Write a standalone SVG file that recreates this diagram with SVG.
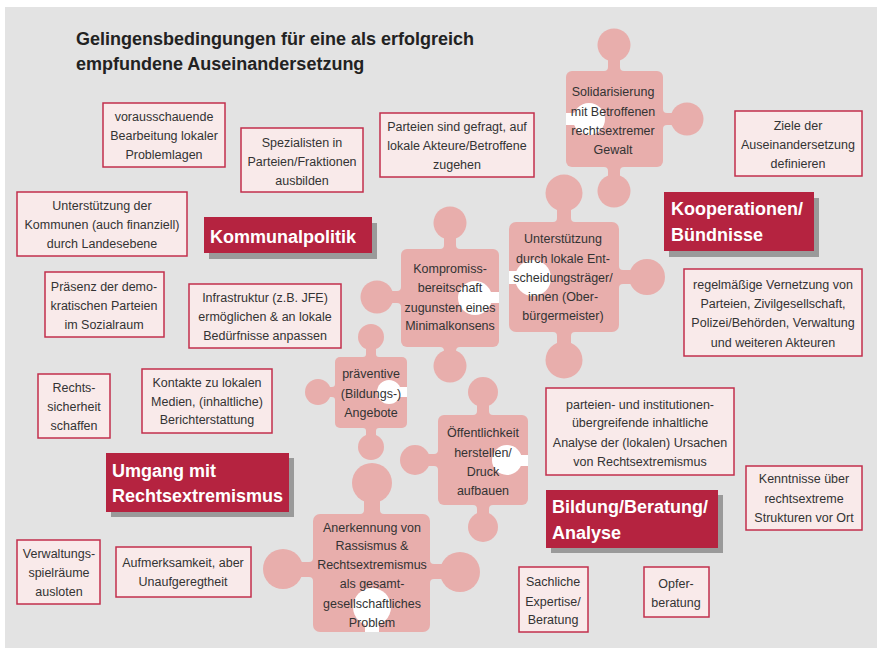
<svg xmlns="http://www.w3.org/2000/svg" width="877" height="651" viewBox="0 0 877 651">
<style>
.bg{fill:#e3e3e3}
.box{fill:#f9eaea;stroke:#c22f4c;stroke-width:1.5}
.t{font-family:"Liberation Sans",Arial,sans-serif;font-size:12.5px;fill:#333;text-anchor:middle}
.lab{fill:#b52340}
.sh{fill:#9a9a9a}
.h{font-family:"Liberation Sans",Arial,sans-serif;font-size:18px;font-weight:bold;fill:#fff}
.title{font-family:"Liberation Sans",Arial,sans-serif;font-size:18px;font-weight:bold;fill:#222}
.pz{fill:#e8aeac}
.hole{fill:#fff}
</style>
<rect x="0" y="0" width="877" height="651" fill="#fff"/>
<rect class="bg" x="5" y="7" width="872" height="641"/>
<g id="title">
<text class="title" x="76" y="45">Gelingensbedingungen für eine als erfolgreich</text>
<text class="title" x="76" y="70">empfundene Auseinandersetzung</text>
</g>

<!-- puzzle pieces -->
<g id="piece-solidarisierung">
<g class="pz">
<rect x="566" y="71" width="97" height="96" rx="6"/>
<circle cx="614" cy="45" r="16.5"/><rect x="608" y="55" width="12" height="20"/>
<circle cx="614" cy="191" r="16.5"/><rect x="608" y="163" width="12" height="20"/>
<circle cx="687" cy="119" r="16.5"/><rect x="659" y="113" width="20" height="12"/>
<path d="M604 71A4 4 0 0 0 608 67L608 71Z M624 71A4 4 0 0 1 620 67L620 71Z M604 167A4 4 0 0 1 608 171L608 167Z M624 167A4 4 0 0 0 620 171L620 167Z M663 109A4 4 0 0 0 667 113L663 113Z M663 129A4 4 0 0 1 667 125L663 125Z"/>
</g>
<g class="hole"><circle cx="589" cy="119" r="16"/><rect x="566" y="113" width="23" height="12"/></g>
<text class="t"><tspan x="613" y="96">Solidarisierung</tspan><tspan x="613" y="116">mit Betroffenen</tspan><tspan x="613" y="135">rechtsextremer</tspan><tspan x="613" y="154">Gewalt</tspan></text>
</g>

<g id="piece-unterstuetzung">
<g class="pz">
<rect x="509" y="222" width="110" height="110" rx="7"/>
<circle cx="564" cy="193" r="18.5"/><rect x="557" y="205" width="14" height="22"/>
<circle cx="564" cy="360" r="18.5"/><rect x="557" y="328" width="14" height="20"/>
<circle cx="647" cy="277" r="18"/><rect x="615" y="270" width="20" height="14"/>
<path d="M553 222A4 4 0 0 0 557 218L557 222Z M575 222A4 4 0 0 1 571 218L571 222Z M553 332A4 4 0 0 1 557 336L557 332Z M575 332A4 4 0 0 0 571 336L571 332Z M619 266A4 4 0 0 0 623 270L619 270Z M619 288A4 4 0 0 1 623 284L619 284Z"/>
</g>
<g class="hole"><circle cx="533" cy="278" r="18"/><rect x="509" y="271" width="24" height="13"/></g>
<text class="t"><tspan x="563" y="243">Unterstützung</tspan><tspan x="563" y="263">durch lokale Ent-</tspan><tspan x="563" y="282">scheidungsträger/</tspan><tspan x="563" y="301">innen (Ober-</tspan><tspan x="563" y="320">bürgermeister)</tspan></text>
</g>

<g id="piece-kompromiss">
<g class="pz">
<rect x="401" y="249" width="98" height="98" rx="6"/>
<circle cx="450" cy="223" r="16.5"/><rect x="444" y="233" width="12" height="20"/>
<circle cx="377" cy="297" r="16.5"/><rect x="387" y="291" width="18" height="12"/>
<circle cx="450" cy="366" r="16.5"/><rect x="444" y="343" width="12" height="18"/>
<path d="M440 249A4 4 0 0 0 444 245L444 249Z M460 249A4 4 0 0 1 456 245L456 249Z M401 287A4 4 0 0 1 397 291L401 291Z M401 307A4 4 0 0 0 397 303L401 303Z M440 347A4 4 0 0 1 444 351L444 347Z M460 347A4 4 0 0 0 456 351L456 347Z"/>
</g>
<g class="hole"><circle cx="475" cy="298" r="17"/><rect x="475" y="292" width="24" height="11"/></g>
<text class="t"><tspan x="450" y="273">Kompromiss-</tspan><tspan x="450" y="292">bereitschaft</tspan><tspan x="450" y="312">zugunsten eines</tspan><tspan x="450" y="330">Minimalkonsens</tspan></text>
</g>

<g id="piece-praeventive">
<g class="pz">
<rect x="335" y="357" width="72" height="71" rx="5"/>
<circle cx="371" cy="337" r="13"/><rect x="366" y="345" width="10" height="15"/>
<circle cx="318" cy="392" r="13"/><rect x="326" y="387" width="12" height="10"/>
<circle cx="371" cy="447" r="13"/><rect x="366" y="425" width="10" height="14"/>
<path d="M363 357A3 3 0 0 0 366 354L366 357Z M379 357A3 3 0 0 1 376 354L376 357Z M335 384A3 3 0 0 1 332 387L335 387Z M335 400A3 3 0 0 0 332 397L335 397Z M363 428A3 3 0 0 1 366 431L366 428Z M379 428A3 3 0 0 0 376 431L376 428Z"/>
</g>
<g class="hole"><circle cx="389" cy="392" r="12"/><rect x="389" y="387" width="18" height="10"/></g>
<text class="t"><tspan x="371" y="378">präventive</tspan><tspan x="371" y="398">(Bildungs-)</tspan><tspan x="371" y="417">Angebote</tspan></text>
</g>

<g id="piece-oeffentlichkeit">
<g class="pz">
<rect x="438" y="415" width="90" height="90" rx="6"/>
<circle cx="483" cy="392" r="15"/><rect x="477" y="402" width="12" height="16"/>
<circle cx="415" cy="460" r="15"/><rect x="425" y="454" width="16" height="12"/>
<circle cx="483" cy="527" r="15"/><rect x="477" y="502" width="12" height="14"/>
<path d="M473 415A4 4 0 0 0 477 411L477 415Z M493 415A4 4 0 0 1 489 411L489 415Z M438 450A4 4 0 0 1 434 454L438 454Z M438 470A4 4 0 0 0 434 466L438 466Z M473 505A4 4 0 0 1 477 509L477 505Z M493 505A4 4 0 0 0 489 509L489 505Z"/>
</g>
<g class="hole"><circle cx="507" cy="460" r="15"/><rect x="507" y="455" width="21" height="11"/></g>
<text class="t"><tspan x="483" y="437">Öffentlichkeit</tspan><tspan x="483" y="457">herstellen/</tspan><tspan x="483" y="476">Druck</tspan><tspan x="483" y="495">aufbauen</tspan></text>
</g>

<g id="piece-anerkennung">
<g class="pz">
<rect x="313" y="514" width="117" height="118" rx="7"/>
<circle cx="372" cy="483" r="20"/><rect x="364" y="495" width="16" height="22"/>
<circle cx="283" cy="569" r="20"/><rect x="297" y="562" width="20" height="15"/>
<circle cx="460" cy="572" r="20"/><rect x="426" y="564" width="20" height="15"/>
<path d="M360 514A4 4 0 0 0 364 510L364 514Z M384 514A4 4 0 0 1 380 510L380 514Z M313 558A4 4 0 0 1 309 562L313 562Z M313 581A4 4 0 0 0 309 577L313 577Z M430 560A4 4 0 0 0 434 564L430 564Z M430 583A4 4 0 0 1 434 579L430 579Z"/>
</g>
<g class="hole"><circle cx="372" cy="607" r="19"/><rect x="365" y="607" width="14" height="25"/></g>
<text class="t"><tspan x="372" y="532">Anerkennung von</tspan><tspan x="372" y="550">Rassismus &amp;</tspan><tspan x="372" y="569">Rechtsextremismus</tspan><tspan x="372" y="588">als gesamt-</tspan><tspan x="372" y="608">gesellschaftliches</tspan><tspan x="372" y="627">Problem</tspan></text>
</g>

<!-- category labels -->
<g id="label-kommunalpolitik">
<rect class="sh" x="209" y="223" width="168" height="36"/>
<rect class="lab" x="204" y="217" width="168" height="36"/>
<text class="h" x="210" y="243">Kommunalpolitik</text>
</g>
<g id="label-kooperationen">
<rect class="sh" x="669" y="198" width="150" height="59"/>
<rect class="lab" x="664" y="192" width="150" height="59"/>
<text class="h" x="671" y="215">Kooperationen/</text>
<text class="h" x="671" y="241">Bündnisse</text>
</g>
<g id="label-umgang">
<rect class="sh" x="111" y="458" width="183" height="59"/>
<rect class="lab" x="106" y="453" width="183" height="59"/>
<text class="h" x="112" y="477">Umgang mit</text>
<text class="h" x="112" y="502">Rechtsextremismus</text>
</g>
<g id="label-bildung">
<rect class="sh" x="551" y="495" width="172" height="58"/>
<rect class="lab" x="546" y="490" width="172" height="58"/>
<text class="h" x="552" y="513">Bildung/Beratung/</text>
<text class="h" x="552" y="539">Analyse</text>
</g>

<!-- boxes -->
<g id="box-vorausschauende">
<rect class="box" x="103" y="103" width="122" height="64"/>
<text class="t"><tspan x="164" y="121">vorausschauende</tspan><tspan x="164" y="140">Bearbeitung lokaler</tspan><tspan x="164" y="159">Problemlagen</tspan></text>
</g>
<g id="box-spezialisten">
<rect class="box" x="241" y="128" width="122" height="64"/>
<text class="t"><tspan x="302" y="147">Spezialisten in</tspan><tspan x="302" y="166">Parteien/Fraktionen</tspan><tspan x="302" y="185">ausbilden</tspan></text>
</g>
<g id="box-parteien-gefragt">
<rect class="box" x="380" y="113" width="154" height="64"/>
<text class="t"><tspan x="457" y="131">Parteien sind gefragt, auf</tspan><tspan x="457" y="150">lokale Akteure/Betroffene</tspan><tspan x="457" y="169">zugehen</tspan></text>
</g>
<g id="box-ziele">
<rect class="box" x="735" y="111" width="127" height="65"/>
<text class="t"><tspan x="798" y="130">Ziele der</tspan><tspan x="798" y="149">Auseinandersetzung</tspan><tspan x="798" y="168">definieren</tspan></text>
</g>
<g id="box-kommunen">
<rect class="box" x="17" y="192" width="170" height="64"/>
<text class="t"><tspan x="102" y="210">Unterstützung der</tspan><tspan x="102" y="229">Kommunen (auch finanziell)</tspan><tspan x="102" y="248">durch Landesebene</tspan></text>
</g>
<g id="box-praesenz">
<rect class="box" x="45" y="272" width="119" height="65"/>
<text class="t"><tspan x="104" y="291">Präsenz der demo-</tspan><tspan x="104" y="310">kratischen Parteien</tspan><tspan x="104" y="329">im Sozialraum</tspan></text>
</g>
<g id="box-infrastruktur">
<rect class="box" x="189" y="284" width="152" height="64"/>
<text class="t"><tspan x="265" y="302">Infrastruktur (z.B. JFE)</tspan><tspan x="265" y="321">ermöglichen &amp; an lokale</tspan><tspan x="265" y="340">Bedürfnisse anpassen</tspan></text>
</g>
<g id="box-rechtssicherheit">
<rect class="box" x="38" y="374" width="72" height="64"/>
<text class="t"><tspan x="74" y="392">Rechts-</tspan><tspan x="74" y="411">sicherheit</tspan><tspan x="74" y="430">schaffen</tspan></text>
</g>
<g id="box-kontakte">
<rect class="box" x="142" y="369" width="130" height="64"/>
<text class="t"><tspan x="207" y="387">Kontakte zu lokalen</tspan><tspan x="207" y="406">Medien, (inhaltliche)</tspan><tspan x="207" y="424">Berichterstattung</tspan></text>
</g>
<g id="box-vernetzung">
<rect class="box" x="684" y="269" width="178" height="87"/>
<text class="t"><tspan x="773" y="289">regelmäßige Vernetzung von</tspan><tspan x="773" y="308">Parteien, Zivilgesellschaft,</tspan><tspan x="773" y="327">Polizei/Behörden, Verwaltung</tspan><tspan x="773" y="347">und weiteren Akteuren</tspan></text>
</g>
<g id="box-analyse">
<rect class="box" x="546" y="388" width="188" height="87"/>
<text class="t"><tspan x="640" y="409">parteien- und institutionen-</tspan><tspan x="640" y="427">übergreifende inhaltliche</tspan><tspan x="640" y="447">Analyse der (lokalen) Ursachen</tspan><tspan x="640" y="466">von Rechtsextremismus</tspan></text>
</g>
<g id="box-kenntnisse">
<rect class="box" x="746" y="466" width="116" height="64"/>
<text class="t"><tspan x="804" y="483">Kenntnisse über</tspan><tspan x="804" y="503">rechtsextreme</tspan><tspan x="804" y="522">Strukturen vor Ort</tspan></text>
</g>
<g id="box-verwaltung">
<rect class="box" x="17" y="540" width="83" height="64"/>
<text class="t"><tspan x="59" y="558">Verwaltungs-</tspan><tspan x="59" y="577">spielräume</tspan><tspan x="59" y="596">ausloten</tspan></text>
</g>
<g id="box-aufmerksamkeit">
<rect class="box" x="116" y="547" width="135" height="50"/>
<text class="t"><tspan x="183" y="567">Aufmerksamkeit, aber</tspan><tspan x="183" y="586">Unaufgeregtheit</tspan></text>
</g>
<g id="box-sachliche">
<rect class="box" x="519" y="567" width="69" height="65"/>
<text class="t"><tspan x="553" y="586">Sachliche</tspan><tspan x="553" y="606">Expertise/</tspan><tspan x="553" y="624">Beratung</tspan></text>
</g>
<g id="box-opfer">
<rect class="box" x="644" y="567" width="65" height="50"/>
<text class="t"><tspan x="676" y="588">Opfer-</tspan><tspan x="676" y="607">beratung</tspan></text>
</g>
</svg>
